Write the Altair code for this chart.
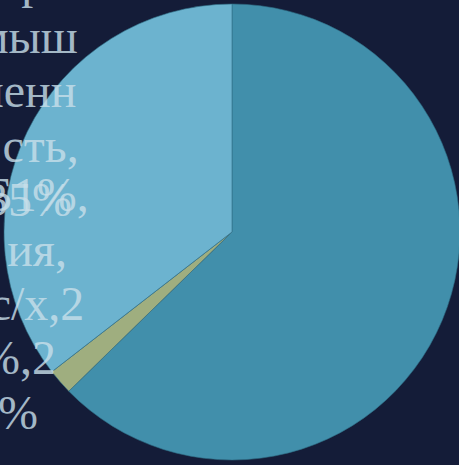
import altair as alt
import pandas as pd

# Slice data (clockwise from 12 o'clock)
sectors = ["Прочие отрасли", "Сельское хозяйство", "Промышленность"]
shares = [62.7, 1.8, 35.5]
colors = ["#418fab", "#9fae7f", "#6cb3cf"]

# Label texts (wrapped, as seen)
label_a = "Про\nмыш\nленн\nость,\n35%"
label_b = "Б1%,\nия,\nс/х,2"
label_c = "%,2\n%"

df = pd.DataFrame({"sector": sectors, "share": shares, "order": [0, 1, 2]})

W, H = 459, 465
CX, CY, R = 232, 232, 228

pie = alt.Chart(df).mark_arc(radius=R, stroke="#2f6f86", strokeWidth=0.6).encode(
    theta=alt.Theta("share:Q", stack=True),
    order=alt.Order("order:Q"),
    color=alt.Color("sector:N", scale=alt.Scale(domain=sectors, range=colors), legend=None),
    x=alt.value(CX),
    y=alt.value(CY),
)

def label(txt, cx, y0):
    return alt.Chart(pd.DataFrame({"t": [txt]})).mark_text(
        font="Liberation Serif",
        fontSize=48,
        lineBreak="\n",
        lineHeight=54.5,
        align="center",
        baseline="alphabetic",
        color="#c8dfea",
        opacity=0.8,
    ).encode(text="t:N", x=alt.value(cx), y=alt.value(y0))

chart = alt.layer(
    pie,
    label(label_a, 28, -2),
    label(label_b, 37, 211),
    label(label_c, 18, 374),
).properties(
    width=W, height=H,
    autosize=alt.AutoSizeParams(type="none"),
    padding=0,
    background="#141c38",
).configure_view(stroke=None)

chart.save("out.html", embed_options={"renderer": "svg", "actions": False})
